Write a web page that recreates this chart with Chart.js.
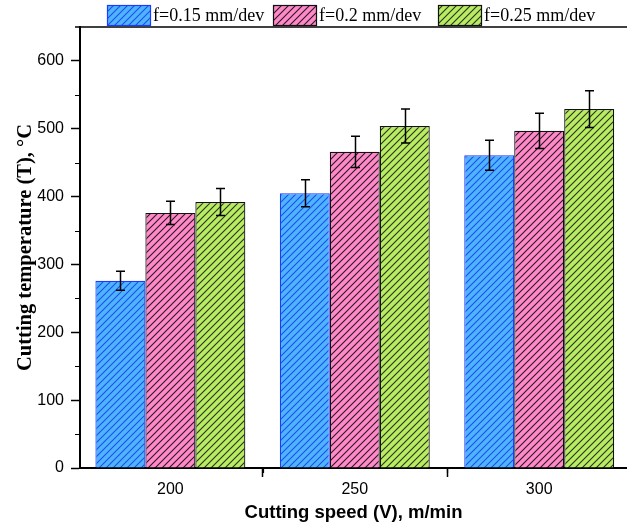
<!DOCTYPE html>
<html>
<head>
<meta charset="utf-8">
<script src="https://cdn.jsdelivr.net/npm/chart.js@4"></script>
<style>
html,body{margin:0;padding:0;background:#fff;overflow:hidden;}
#wrap{width:627px;height:529px;}
</style>
</head>
<body>
<div id="wrap"><canvas id="c" width="627" height="529"></canvas></div>
<script>
// ---- data ----
const categories = [200, 250, 300];
const seriesNames = ['f=0.15 mm/dev', 'f=0.2 mm/dev', 'f=0.25 mm/dev'];
const temp015 = [276, 405, 461];
const temp02  = [376, 466, 497];
const temp025 = [392, 504, 529];
const err015 = [14, 20, 22];
const err02  = [17, 23, 26];
const err025 = [20, 25, 27];
const xTicks = [200, 250, 300];
const xMinorTicks = [225, 275];
const yTicks = [0, 100, 200, 300, 400, 500, 600];
const yMinorTicks = [50, 150, 250, 350, 450, 550];

function hatch(fill, line) {
  const s = 7;
  const c = document.createElement('canvas');
  c.width = s; c.height = s;
  const g = c.getContext('2d');
  g.fillStyle = fill; g.fillRect(0, 0, s, s);
  g.strokeStyle = line; g.lineWidth = 1.1;
  g.beginPath();
  g.moveTo(-1, s + 1); g.lineTo(s + 1, -1);
  g.moveTo(-1, 1); g.lineTo(1, -1);
  g.moveTo(s - 1, s + 1); g.lineTo(s + 1, s - 1);
  g.stroke();
  return document.getElementById('c').getContext('2d').createPattern(c, 'repeat');
}

const styles = [
  {fill: hatch('#4fb4ff', '#1e4fe8'), border: '#1a3cff'},
  {fill: hatch('#ff88c8', '#2a1a22'), border: '#111111'},
  {fill: hatch('#b8ec62', '#2a3318'), border: '#111111'}
];
const values = [temp015, temp02, temp025];
const errors = [err015, err02, err025];

const datasets = values.map((v, i) => ({
  label: seriesNames[i],
  data: categories.map((x, j) => ({x: x, y: v[j]})),
  errs: errors[i],
  backgroundColor: styles[i].fill,
  borderColor: styles[i].border,
  borderWidth: 1.2,
  borderSkipped: 'bottom',
  categoryPercentage: 0.813,
  barPercentage: 1.0
}));

const extras = {
  id: 'extras',
  afterDatasetsDraw(chart) {
    const ctx = chart.ctx;
    const ys = chart.scales.y;
    ctx.save();
    ctx.strokeStyle = '#000'; ctx.lineWidth = 1.5;
    chart.data.datasets.forEach((ds, i) => {
      const meta = chart.getDatasetMeta(i);
      meta.data.forEach((bar, j) => {
        const v = ds.data[j].y, e = ds.errs[j];
        const x = Math.round(bar.x) + 0.5;
        const yt = ys.getPixelForValue(v + e), yb = ys.getPixelForValue(v - e);
        ctx.beginPath();
        ctx.moveTo(x, yt); ctx.lineTo(x, yb);
        ctx.moveTo(x - 4.5, yt); ctx.lineTo(x + 4.5, yt);
        ctx.moveTo(x - 4.5, yb); ctx.lineTo(x + 4.5, yb);
        ctx.stroke();
      });
    });
    ctx.restore();
  },
  afterDraw(chart) {
    const ctx = chart.ctx;
    const a = chart.chartArea;
    const ys = chart.scales.y, xs = chart.scales.x;
    ctx.save();
    ctx.strokeStyle = '#000';
    ctx.lineWidth = 1.5;
    ctx.beginPath();
    ctx.moveTo(a.left - 5, a.top); ctx.lineTo(chart.width, a.top);
    ctx.stroke();
    ctx.lineWidth = 1.2;
    ctx.beginPath();
    yMinorTicks.forEach(v => {
      const y = Math.round(ys.getPixelForValue(v)) + 0.5;
      ctx.moveTo(a.left - 5, y); ctx.lineTo(a.left, y);
    });
    xMinorTicks.forEach(v => {
      const x = Math.round(xs.getPixelForValue(v)) + 0.5;
      ctx.moveTo(x, a.bottom); ctx.lineTo(x, a.bottom + 5);
    });
    ctx.stroke();
    // legend
    const boxes = [107, 273, 438];
    ctx.font = '18px "Liberation Serif", serif';
    ctx.textBaseline = 'alphabetic';
    chart.data.datasets.forEach((ds, i) => {
      const bx = boxes[i], by = 5, bw = 43, bh = 20;
      ctx.fillStyle = ds.backgroundColor;
      ctx.fillRect(bx, by, bw, bh);
      ctx.strokeStyle = ds.borderColor; ctx.lineWidth = 1.2;
      ctx.strokeRect(bx + 0.5, by + 0.5, bw, bh);
      ctx.fillStyle = '#000';
      ctx.fillText(ds.label, bx + bw + 3, 21);
    });
    ctx.restore();
  }
};

new Chart(document.getElementById('c'), {
  type: 'bar',
  data: {datasets: datasets},
  plugins: [extras],
  options: {
    responsive: false,
    animation: false,
    layout: {padding: {top: 27, right: 0, left: 0, bottom: 0}},
    plugins: {legend: {display: false}, tooltip: {enabled: false}},
    scales: {
      x: {
        type: 'linear',
        min: 175.5, max: 323.8,
        offset: false,
        afterBuildTicks(s) { s.ticks = xTicks.map(v => ({value: v})); },
        afterFit(s) { s.height = 61; },
        grid: {display: true, drawOnChartArea: false, drawTicks: true, tickLength: 9, tickColor: '#000', tickWidth: 1.5},
        border: {display: true, color: '#000', width: 2},
        ticks: {color: '#000', font: {family: '"Liberation Sans", Arial, sans-serif', size: 16}, padding: 3, maxRotation: 0},
        title: {display: true, text: 'Cutting speed (V), m/min', color: '#000',
                font: {family: '"Liberation Sans", Arial, sans-serif', size: 18.5, weight: 'bold'},
                padding: {top: 0, bottom: 5}}
      },
      y: {
        min: 0, max: 650,
        afterBuildTicks(s) { s.ticks = yTicks.map(v => ({value: v})); },
        afterFit(s) { s.width = 80; },
        grid: {display: true, drawOnChartArea: false, drawTicks: true, tickLength: 9, tickColor: '#000', tickWidth: 1.5},
        border: {display: true, color: '#000', width: 2},
        ticks: {color: '#000', font: {family: '"Liberation Sans", Arial, sans-serif', size: 16}, padding: 7},
        title: {display: true, text: 'Cutting temperature (T), °C', color: '#000',
                font: {family: '"Liberation Serif", "Times New Roman", serif', size: 20.5, weight: 'bold'},
                padding: {top: 13, bottom: 0}}
      }
    }
  }
});
</script>
</body>
</html>
